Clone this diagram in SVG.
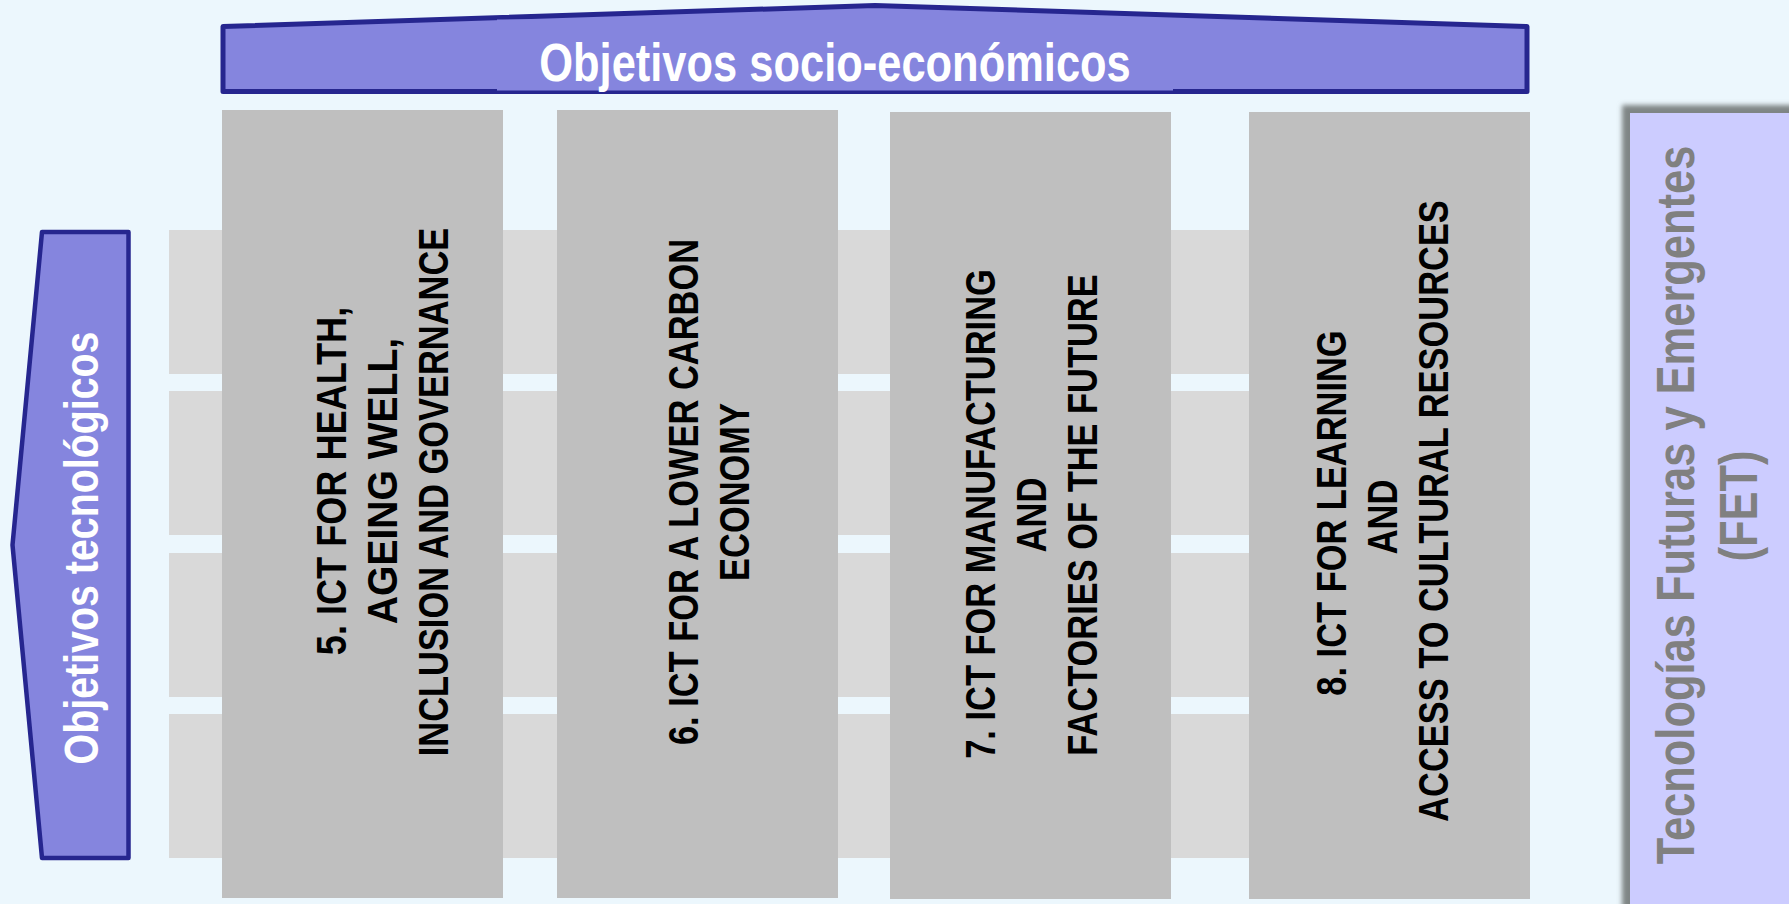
<svg xmlns="http://www.w3.org/2000/svg" width="1789" height="904" viewBox="0 0 1789 904">
  <defs>
    <filter id="shadowBlur" x="-20%" y="-20%" width="140%" height="140%">
      <feGaussianBlur stdDeviation="2.5"/>
    </filter>
  </defs>
  <style>
    .bg { fill: #ECF7FD; }
    .band { fill: #D9D9D9; }
    .col { fill: #BFBFBF; }
    .obj { fill: #8585DE; stroke: #26268F; stroke-width: 5; stroke-linejoin: round; }
    .objfill { fill: #8585DE; }
    .t { font-family: "Liberation Sans", Arial, Helvetica, sans-serif; font-weight: bold; text-anchor: middle; }
    .white { fill: #FFFFFF; }
    .black { fill: #000000; font-size: 42px; }
    .grey { fill: #808080; font-size: 53px; }
    .fet { fill: #CCCCFF; }
    .fetshadow { fill: #7F8585; }
  </style>

  <rect class="bg" x="0" y="0" width="1789" height="904"/>

  <!-- horizontal technology bands -->
  <g id="bands">
    <rect class="band" x="169" y="230" width="1170" height="144"/>
    <rect class="band" x="169" y="391" width="1170" height="144"/>
    <rect class="band" x="169" y="553" width="1170" height="144"/>
    <rect class="band" x="169" y="714" width="1170" height="144"/>
  </g>

  <!-- top banner -->
  <g id="node-socioeconomicos">
    <polygon class="obj" points="223,26.5 875,5.5 1527,26.5 1527,91.5 223,91.5"/>
    <rect class="objfill" x="497" y="19.5" width="676" height="71"/>
    <text class="t white" font-size="53" transform="translate(835,81) scale(0.82,1)" x="0" y="0">Objetivos socio-económicos</text>
  </g>

  <!-- left arrow -->
  <g id="node-tecnologicos">
    <polygon class="obj" points="42,232 128.5,232 128.5,858 42,858 12.5,545" style="stroke-width:4.5"/>
    <text class="t white" font-size="48" transform="translate(98,548) rotate(-90) scale(0.82,1)" x="0" y="0">Objetivos tecnológicos</text>
  </g>

  <!-- column 5 -->
  <g id="node-5">
    <rect class="col" x="222" y="110" width="281" height="788"/>
    <text class="t black" transform="translate(346,481) rotate(-90) scale(0.86,1)">5. ICT FOR HEALTH,</text>
    <text class="t black" transform="translate(397,481) rotate(-90) scale(0.93,1)">AGEING WELL,</text>
    <text class="t black" transform="translate(448,492) rotate(-90) scale(0.82,1)">INCLUSION AND GOVERNANCE</text>
  </g>

  <!-- column 6 -->
  <g id="node-6">
    <rect class="col" x="557" y="110" width="281" height="788"/>
    <text class="t black" transform="translate(698,492) rotate(-90) scale(0.82,1)">6. ICT FOR A LOWER CARBON</text>
    <text class="t black" transform="translate(749,492) rotate(-90) scale(0.82,1)">ECONOMY</text>
  </g>

  <!-- column 7 -->
  <g id="node-7">
    <rect class="col" x="890" y="112" width="281" height="787"/>
    <text class="t black" transform="translate(995,514) rotate(-90) scale(0.82,1)">7. ICT FOR MANUFACTURING</text>
    <text class="t black" transform="translate(1046,515) rotate(-90) scale(0.82,1)">AND</text>
    <text class="t black" transform="translate(1097,515) rotate(-90) scale(0.82,1)">FACTORIES OF THE FUTURE</text>
  </g>

  <!-- column 8 -->
  <g id="node-8">
    <rect class="col" x="1249" y="112" width="281" height="787"/>
    <text class="t black" transform="translate(1346,513) rotate(-90) scale(0.82,1)">8. ICT FOR LEARNING</text>
    <text class="t black" transform="translate(1397,517) rotate(-90) scale(0.82,1)">AND</text>
    <text class="t black" transform="translate(1448,511) rotate(-90) scale(0.82,1)">ACCESS TO CULTURAL RESOURCES</text>
  </g>

  <!-- FET box -->
  <g id="node-fet">
    <rect class="fetshadow" x="1622" y="105" width="220" height="820" filter="url(#shadowBlur)"/>
    <rect class="fet" x="1630" y="113" width="200" height="820"/>
    <text class="t grey" transform="translate(1694,505) rotate(-90) scale(0.82,1)">Tecnologías Futuras y Emergentes</text>
    <text class="t grey" transform="translate(1757,506) rotate(-90) scale(0.82,1)">(FET)</text>
  </g>

  <g id="connectors"/>
</svg>
